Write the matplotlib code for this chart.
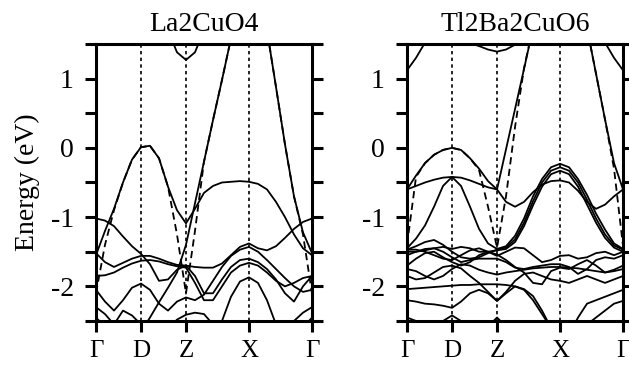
import numpy as np
import matplotlib
matplotlib.use("Agg")
import matplotlib.pyplot as plt

plt.rcParams['font.family'] = ['Liberation Serif', 'DejaVu Serif']
plt.rcParams['axes.unicode_minus'] = False

nan = np.nan

# path Γ-D-Z-X-Γ, segment lengths 1 : 1 : 1.4 : 1.4, sampled every 0.2
k_path = np.linspace(0.0, 4.8, 25)
sym_k = [0.0, 1.0, 2.0, 3.4, 4.8]
sym_labels = ['Γ', 'D', 'Z', 'X', 'Γ']

# ---- La2CuO4 bands (eV) ----
la_arch = [-1.55, -1.2, -0.88, -0.5, -0.17, 0.01, 0.03, -0.15, -0.56, -0.9, -1.09, -0.88, -0.65,
           -0.55, -0.5, -0.49, -0.48, -0.49, -0.52, -0.6, -0.78, -1.0, -1.25, -1.45, -1.55]
la_tb = [-2.1, -1.4, -0.9, -0.5, -0.17, 0.01, 0.03, -0.15, -0.56, -1.25, -2.1, -1.2, -0.2,
         0.4, 0.98, 1.58, 2.2, 2.5, 2.3, 1.7, 0.88, 0.05, -0.7, -1.25, -2.1]
la_up = [nan, nan, nan, nan, nan, -2.66, -2.45, -2.23, -2.02, -1.8, -1.4, -0.8, -0.2,
         0.4, 0.98, 1.58, nan, nan, nan, nan, nan, nan, nan, nan, nan]
la_down = [nan, nan, nan, nan, nan, nan, nan, nan, nan, nan, nan, nan, nan,
           nan, nan, nan, nan, nan, nan, 1.7, 0.88, 0.05, -0.7, -1.22, -1.52]
la_ztop = [nan, nan, nan, nan, nan, nan, nan, nan, 1.7, 1.38, 1.27, 1.38, 1.7,
           nan, nan, nan, nan, nan, nan, nan, nan, nan, nan, nan, nan]
la_flat = [-1.02, -1.05, -1.13, -1.28, -1.42, -1.53, -1.68, -1.92, -1.9, -1.76, -1.7, -1.72, -1.73,
           -1.73, -1.67, -1.55, -1.43, -1.38, -1.45, -1.48, -1.42, -1.3, -1.17, -1.07, -1.02]
la_pair1 = [-1.52, -1.65, -1.72, -1.66, -1.6, -1.56, -1.56, -1.6, -1.65, -1.69, -1.7, -1.85, -2.1,
            -2.1, -1.9, -1.72, -1.62, -1.6, -1.65, -1.75, -1.9, -2.1, -2.22, -2.0, -1.85]
la_pair2 = [-1.85, -1.84, -1.8, -1.73, -1.67, -1.63, -1.62, -1.64, -1.68, -1.71, -1.73, -1.95, -2.2,
            -2.2, -2.0, -1.8, -1.7, -1.66, -1.7, -1.8, -1.92, -2.0, -1.95, -1.88, -1.85]
la_d = [-2.05, -2.22, -2.35, -2.2, -2.02, -1.96, -2.05, -2.25, -2.35, -2.22, -2.16, -2.2, -2.12,
        -1.92, -1.72, -1.56, -1.47, -1.43, -1.5, -1.62, -1.75, -1.88, -2.0, -2.08, -2.05]
la_xdome = [nan, nan, nan, nan, nan, nan, nan, nan, nan, nan, nan, nan, nan,
            -2.7, -2.5, -2.15, -1.93, -1.87, -1.95, -2.2, -2.55, -2.75, nan, nan, nan]
la_zlow = [nan, nan, nan, nan, nan, nan, nan, nan, -2.62, -2.48, -2.41, -2.38, -2.4,
           -2.55, -2.7, nan, nan, nan, nan, nan, nan, nan, nan, nan, nan]
la_glow1 = [-2.3, -2.4, -2.55, nan, nan, nan, nan, nan, nan, nan, nan, nan, nan,
            nan, nan, nan, nan, nan, nan, nan, nan, -2.65, -2.5, -2.38, -2.3]
la_glow2 = [-2.45, -2.58, nan, nan, nan, nan, nan, nan, nan, nan, nan, nan, nan,
            nan, nan, nan, nan, nan, nan, nan, nan, nan, nan, -2.6, -2.45]
la_wiggle = [nan, nan, -2.55, -2.35, -2.42, -2.55, nan, nan, nan, nan, nan, nan, nan,
             nan, nan, nan, nan, nan, nan, nan, nan, nan, nan, nan, nan]

# ---- Tl2Ba2CuO6 bands (eV) ----
tl_arch = [-0.6, -0.4, -0.22, -0.1, -0.03, 0.0, -0.03, -0.15, -0.3, -0.48, -0.6, -0.78, -0.85,
           -0.78, -0.64, -0.53, -0.48, -0.47, -0.5, -0.62, -0.78, -0.88, -0.82, -0.7, -0.6]
tl_tb = [-1.4, -0.42, -0.22, -0.1, -0.03, 0.0, -0.03, -0.15, -0.32, -0.85, -1.44, -0.7, 0.3,
         1.15, 1.75, 2.3, 2.7, 2.9, 2.7, 2.4, 1.73, 1.07, 0.41, -0.3, -1.42]
tl_flat = [-0.6, -0.55, -0.5, -0.46, -0.43, -0.42, -0.43, -0.47, -0.52, -0.57, -0.6, -0.02, 0.56,
           1.14, 1.73, nan, nan, nan, nan, nan, nan, nan, nan, nan, nan]
tl_down = [nan, nan, nan, nan, nan, nan, nan, nan, nan, nan, nan, nan, nan,
           nan, nan, nan, nan, nan, nan, 2.4, 1.73, 1.07, 0.41, -0.22, -0.6]
tl_gtop = [1.12, 1.3, 1.52, 1.9, nan, nan, nan, nan, nan, nan, nan, nan, nan,
           nan, nan, nan, nan, nan, nan, nan, nan, 1.9, 1.52, 1.3, 1.12]
tl_ztop = [nan, nan, nan, nan, nan, nan, 1.6, 1.51, 1.47, 1.42, 1.39, 1.42, 1.49,
           1.6, nan, nan, nan, nan, nan, nan, nan, nan, nan, nan, nan]
tl_x1 = [-1.45, -1.31, -1.12, -0.85, -0.55, -0.42, -0.55, -0.85, -1.17, -1.38, -1.46, -1.42, -1.27,
         -1.02, -0.7, -0.45, -0.28, -0.23, -0.28, -0.45, -0.68, -0.95, -1.18, -1.38, -1.46]
tl_x2 = [-1.47, -1.42, -1.36, -1.33, -1.4, -1.5, -1.58, -1.6, -1.58, -1.52, -1.47, -1.44, -1.32,
         -1.08, -0.77, -0.5, -0.33, -0.28, -0.33, -0.5, -0.75, -1.02, -1.25, -1.41, -1.47]
tl_x3 = [-1.5, -1.5, -1.48, -1.45, -1.43, -1.46, -1.43, -1.45, -1.5, -1.5, -1.48, -1.46, -1.36,
         -1.13, -0.83, -0.56, -0.38, -0.33, -0.38, -0.56, -0.82, -1.08, -1.3, -1.44, -1.5]
tl_t1 = [-1.47, -1.47, -1.5, -1.55, -1.6, -1.62, -1.55, -1.48, -1.45, -1.5, -1.56, -1.5, -1.44,
         -1.45, -1.55, -1.65, -1.62, -1.56, -1.55, -1.6, -1.58, -1.52, -1.5, -1.55, -1.5]
tl_t2 = [-1.55, -1.5, -1.46, -1.45, -1.5, -1.58, -1.65, -1.62, -1.6, -1.6, -1.6, -1.65, -1.73,
         -1.75, -1.72, -1.7, -1.68, -1.68, -1.72, -1.82, -1.75, -1.62, -1.58, -1.6, -1.55]
tl_t3 = [-1.7, -1.6, -1.52, -1.5, -1.58, -1.65, -1.7, -1.65, -1.55, -1.5, -1.54, -1.62, -1.72,
         -1.8, -1.95, -1.97, -1.78, -1.73, -1.75, -1.68, -1.62, -1.7, -1.8, -1.76, -1.7]
tl_t4 = [-1.75, -1.78, -1.85, -1.9, -1.85, -1.75, -1.68, -1.7, -1.76, -1.8, -1.83, -1.8, -1.78,
         -1.76, -1.74, -1.73, -1.72, -1.72, -1.73, -1.74, -1.76, -1.78, -1.8, -1.78, -1.75]
tl_t5 = [-1.85, -1.9, -1.88, -1.8, -1.72, -1.7, -1.74, -1.85, -1.95, -2.08, -2.21, -2.08, -1.92,
         -1.82, -1.8, -1.85, -1.9, -1.92, -1.95, -1.9, -1.85, -1.9, -1.95, -1.9, -1.85]
tl_t6 = [-2.04, -2.03, -2.02, -2.01, -2.0, -1.99, -1.98, -1.98, -1.97, -1.97, -1.97, -1.98, -2.0,
         -2.04, -2.14, -2.35, -2.6, nan, nan, nan, nan, nan, nan, nan, nan]
tl_t7 = [-2.2, -2.22, -2.25, -2.26, -2.28, -2.31, -2.22, -2.1, -2.05, -2.1, -2.21, -2.1, -2.0,
         -2.05, -2.2, -2.4, -2.6, nan, nan, nan, nan, nan, nan, nan, nan]
tl_t8 = [-2.45, -2.5, -2.55, -2.55, -2.5, -2.42, -2.5, -2.6, nan, -2.58, -2.45, -2.58, nan,
         nan, nan, nan, nan, nan, nan, nan, nan, nan, nan, nan, nan]
tl_t9 = [nan, nan, nan, nan, nan, nan, nan, nan, nan, nan, nan, nan, nan,
         nan, nan, nan, nan, nan, -2.7, -2.45, -2.25, -2.2, -2.15, -2.1, -2.05]
tl_t10 = [nan, nan, nan, nan, nan, nan, nan, nan, nan, nan, nan, nan, nan,
          nan, nan, nan, nan, nan, nan, -2.7, -2.55, -2.45, -2.35, -2.25, -2.21]

la_solid = [la_arch, la_up, la_down, la_ztop, la_flat, la_pair1, la_pair2, la_d,
            la_xdome, la_zlow, la_glow1, la_glow2, la_wiggle]
tl_solid = [tl_arch, tl_flat, tl_down, tl_gtop, tl_ztop, tl_x1, tl_x2, tl_x3,
            tl_t1, tl_t2, tl_t3, tl_t4, tl_t5, tl_t6, tl_t7, tl_t8, tl_t9, tl_t10]

FS = 20


def draw_panel(ax, title, solid, dashed, ylabel=False):
    for k in sym_k[1:-1]:
        ax.axvline(k, color='k', lw=1.2, ls=(0, (2, 2)), zorder=1)
    for band in solid:
        ax.plot(k_path, band, color='k', lw=1.3, zorder=2)
    ax.plot(k_path, dashed, color='k', lw=1.3, ls=(0, (4, 2.5)), zorder=3)

    ax.set_xlim(0, 4.8)
    ax.set_ylim(-2.5, 1.5)
    ax.set_xticks(sym_k, sym_labels)
    ax.set_yticks([-2, -1, 0, 1])
    ax.set_yticks(np.arange(-2.5, 1.51, 0.5), minor=True)
    ax.tick_params(axis='y', which='both', direction='out', left=True, right=True,
                   length=8, width=2.2, labelsize=FS, pad=8)
    ax.tick_params(axis='x', direction='out', length=8, width=2.2, labelsize=18, pad=6)
    for s in ax.spines.values():
        s.set_linewidth(2.2)
    ax.set_title(title, fontsize=FS, pad=9)
    if ylabel:
        ax.set_ylabel('Energy (eV)', fontsize=FS, labelpad=8)


fig = plt.figure(figsize=(6.29, 3.66), dpi=100)
ax1 = fig.add_axes([0.1526, 0.123, 0.3434, 0.7568])
ax2 = fig.add_axes([0.6471, 0.123, 0.3434, 0.7568])

draw_panel(ax1, 'La2CuO4', la_solid, la_tb, ylabel=True)
draw_panel(ax2, 'Tl2Ba2CuO6', tl_solid, tl_tb)

fig.savefig('out.png', dpi=100)
